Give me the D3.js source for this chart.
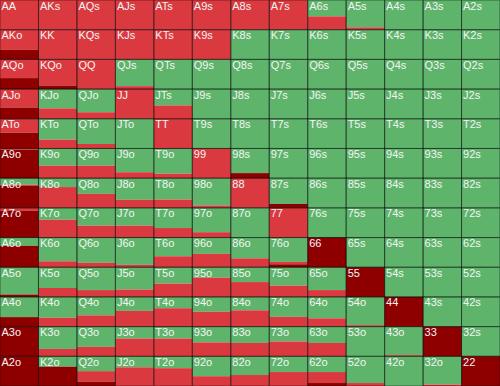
<!DOCTYPE html>
<html lang="en">
<head>
<meta charset="UTF-8">
  <title>Preflop range grid</title>
  <script src="https://d3js.org/d3.v7.min.js"></script>
  <style>
    body { margin: 0; background: #fff; }
    svg { display: block; font-family: "Liberation Sans", Arial, sans-serif; }
    .label { fill: #f4f4f4; font-size: 11px; }
  </style>
</head>
<body>
<div id="chart"></div>
<script>
  // ranks, rows = first card, columns = second card
  const ranks = ["A", "K", "Q", "J", "T", "9", "8", "7", "6", "5", "4", "3", "2"];

  // percentages per hand (top of cell to bottom): fold (green), call (red), raise (dark red)
  const fold = [
    [0, 0, 0, 0, 0, 0, 0, 0, 55, 92, 100, 100, 100],
    [0, 0, 0, 0, 0, 0, 100, 100, 100, 100, 100, 100, 100],
    [0, 0, 0, 90, 100, 100, 100, 100, 100, 100, 100, 100, 100],
    [0, 65, 78, 0, 55, 100, 100, 100, 100, 100, 100, 100, 100],
    [0, 70, 85, 100, 0, 100, 100, 100, 100, 100, 100, 100, 100],
    [0, 58, 58, 80, 85, 0, 83, 100, 100, 100, 100, 100, 100],
    [22, 30, 53, 73, 72, 92, 0, 87, 100, 100, 100, 100, 100],
    [0, 40, 60, 60, 68, 82, 100, 0, 100, 100, 100, 100, 100],
    [28, 80, 85, 92, 63, 55, 70, 82, 0, 100, 100, 100, 100],
    [92, 70, 77, 75, 55, 35, 50, 62, 77, 0, 100, 100, 100],
    [68, 70, 62, 47, 38, 50, 45, 67, 72, 95, 0, 100, 100],
    [0, 75, 68, 40, 40, 53, 55, 50, 55, 100, 96, 0, 100],
    [0, 35, 50, 37, 40, 67, 63, 53, 53, 90, 100, 95, 0]
  ];
  const call = [
    [100, 100, 100, 100, 100, 100, 100, 100, 45, 8, 0, 0, 0],
    [68, 100, 100, 100, 100, 100, 0, 0, 0, 0, 0, 0, 0],
    [63, 88, 100, 10, 0, 0, 0, 0, 0, 0, 0, 0, 0],
    [62, 35, 22, 100, 45, 0, 0, 0, 0, 0, 0, 0, 0],
    [47, 30, 15, 0, 100, 0, 0, 0, 0, 0, 0, 0, 0],
    [5, 42, 42, 20, 15, 100, 0, 0, 0, 0, 0, 0, 0],
    [3, 70, 47, 27, 28, 8, 100, 0, 0, 0, 0, 0, 0],
    [10, 60, 40, 40, 32, 18, 0, 100, 0, 0, 0, 0, 0],
    [0, 20, 15, 8, 37, 45, 30, 8, 0, 0, 0, 0, 0],
    [0, 30, 23, 25, 45, 65, 50, 38, 23, 0, 0, 0, 0],
    [0, 30, 38, 53, 62, 50, 55, 33, 28, 5, 0, 0, 0],
    [0, 25, 32, 60, 60, 47, 45, 50, 45, 0, 4, 0, 0],
    [0, 0, 35, 63, 60, 33, 37, 47, 37, 10, 0, 5, 0]
  ];
  const raise = [
    [0, 0, 0, 0, 0, 0, 0, 0, 0, 0, 0, 0, 0],
    [32, 0, 0, 0, 0, 0, 0, 0, 0, 0, 0, 0, 0],
    [37, 12, 0, 0, 0, 0, 0, 0, 0, 0, 0, 0, 0],
    [38, 0, 0, 0, 0, 0, 0, 0, 0, 0, 0, 0, 0],
    [53, 0, 0, 0, 0, 0, 0, 0, 0, 0, 0, 0, 0],
    [95, 0, 0, 0, 0, 0, 17, 0, 0, 0, 0, 0, 0],
    [75, 0, 0, 0, 0, 0, 0, 13, 0, 0, 0, 0, 0],
    [90, 0, 0, 0, 0, 0, 0, 0, 0, 0, 0, 0, 0],
    [72, 0, 0, 0, 0, 0, 0, 10, 100, 0, 0, 0, 0],
    [8, 0, 0, 0, 0, 0, 0, 0, 0, 100, 0, 0, 0],
    [32, 0, 0, 0, 0, 0, 0, 0, 0, 0, 100, 0, 0],
    [100, 0, 0, 0, 0, 0, 0, 0, 0, 0, 0, 100, 0],
    [100, 65, 15, 0, 0, 0, 0, 0, 10, 0, 0, 0, 100]
  ];

  const actions = ["fold", "call", "raise"];
  const colors = { fold: "#5db46a", call: "#da3a3f", raise: "#8e0000" };

  const width = 500, height = 386;

  // one record per hand
  const cells = [];
  ranks.forEach((r1, i) => {
    ranks.forEach((r2, j) => {
      let hand;
      if (i === j) hand = r1 + r2;
      else if (i < j) hand = r1 + r2 + "s";
      else hand = r2 + r1 + "o";
      cells.push({ row: r1, col: r2, hand: hand,
        fold: fold[i][j], call: call[i][j], raise: raise[i][j] });
    });
  });

  const svg = d3.select("#chart")
    .append("svg")
    .attr("width", width)
    .attr("height", height);

  const x = d3.scaleBand().domain(ranks).range([0, width]);
  const y = d3.scaleBand().domain(ranks).range([0, height]);

  // vertical scale inside one cell
  const inner = d3.scaleLinear().domain([0, 100]).range([0, y.bandwidth()]);

  const series = d3.stack().keys(actions)(cells);

  // stacked segments
  series.forEach(s => {
    svg.selectAll(".seg-" + s.key)
      .data(s)
      .enter()
      .append("rect")
      .attr("class", "seg-" + s.key)
      .attr("x", d => x(d.data.col))
      .attr("y", d => y(d.data.row) + inner(d[0]))
      .attr("width", x.bandwidth())
      .attr("height", d => inner(d[1]) - inner(d[0]))
      .attr("fill", colors[s.key]);
  });

  // cell borders
  svg.selectAll(".border")
    .data(cells)
    .enter()
    .append("rect")
    .attr("class", "border")
    .attr("x", d => x(d.col))
    .attr("y", d => y(d.row))
    .attr("width", x.bandwidth())
    .attr("height", y.bandwidth())
    .attr("fill", "none")
    .attr("stroke", "rgba(0,0,0,0.45)")
    .attr("stroke-width", 1);

  // hand labels
  svg.selectAll(".label")
    .data(cells)
    .enter()
    .append("text")
    .attr("class", "label")
    .attr("x", d => x(d.col) + 1.5)
    .attr("y", d => y(d.row) + 9.5)
    .text(d => d.hand);
</script>
</body>
</html>
